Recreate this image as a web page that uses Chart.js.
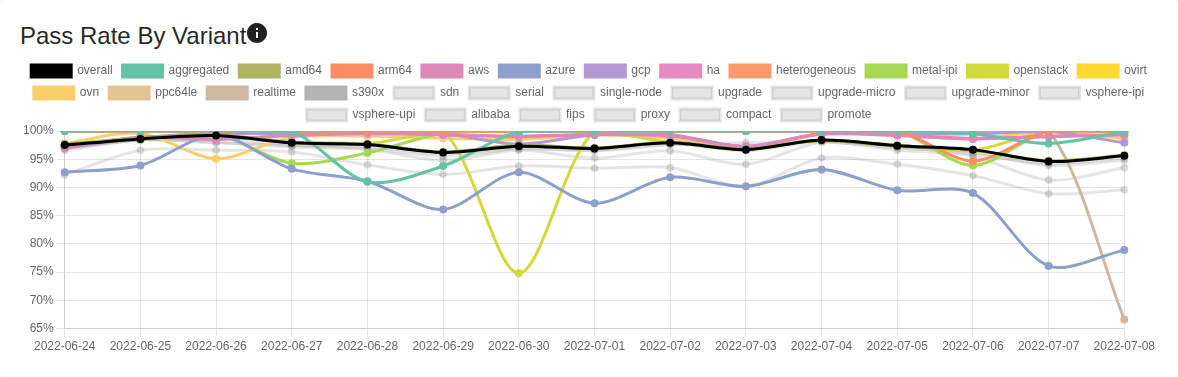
<!DOCTYPE html>
<html>
<head>
<meta charset="utf-8">
<script src="https://cdn.jsdelivr.net/npm/chart.js@4"></script>
<style>
    html, body { margin: 0; padding: 0; background: #f5f5f5; overflow: hidden; }
    .card {
        position: relative;
        box-sizing: border-box;
        width: 1178px;
        height: 377px;
        background: #fff;
        border-radius: 4px;
        font-family: "Liberation Sans", Arial, sans-serif;
    }
    h5 {
        position: absolute;
        left: 20px;
        top: 20px;
        margin: 0;
        font-size: 24px;
        font-weight: 400;
        line-height: 32px;
        color: rgba(0,0,0,.87);
    }
    h5 svg { position: absolute; left: 225px; top: 1px; }
    .chart-wrap { position: absolute; left: 20px; top: 55px; width: 1138px; height: 302px; }
</style>
</head>
<body>
<div class="card">
    <h5>Pass Rate By Variant<svg width="24" height="24" viewBox="0 0 24 24"><path fill="rgba(0,0,0,.87)" d="M12 2C6.48 2 2 6.48 2 12s4.48 10 10 10 10-4.48 10-10S17.52 2 12 2zm1 15h-2v-6h2v6zm0-8h-2V7h2v2z"/></svg></h5>
    <div class="chart-wrap"><canvas id="grafico"></canvas></div>
</div>
<script>
const labels = ['2022-06-24','2022-06-25','2022-06-26','2022-06-27','2022-06-28','2022-06-29','2022-06-30','2022-07-01','2022-07-02','2022-07-03','2022-07-04','2022-07-05','2022-07-06','2022-07-07','2022-07-08'];

const overall       = [97.5, 98.6, 99.2, 97.9, 97.6, 96.2, 97.3, 96.9, 97.9, 96.7, 98.4, 97.4, 96.7, 94.6, 95.6];
const aggregated    = [100, 100, 100, 99.9, 91.0, 93.8, 99.9, 100, 100, 100, 100, 100, 99.5, 97.8, 99.9];
const amd64         = [97.7, 98.7, 99.3, 98.0, 97.7, 96.3, 97.5, 97.0, 98.0, 96.9, 98.3, 97.3, 96.6, 94.7, 95.7];
const arm64         = [100, 100, 100, 100, 100, 100, 100, 100, 100, 100, 100, 100, 94.7, 100, 100];
const aws           = [97.0, 98.9, 98.6, 99.2, 99.6, 99.4, 99.0, 99.4, 99.2, 97.2, 99.5, 99.3, 98.7, 99.0, 99.3];
const azure         = [92.7, 93.9, 99.3, 93.3, 91.1, 86.1, 92.7, 87.2, 91.8, 90.2, 93.2, 89.5, 89.0, 76.1, 78.9];
const gcp           = [97.0, 98.8, 99.5, 99.5, 99.5, 99.5, 97.7, 99.3, 99.4, 97.2, 99.5, 99.5, 99.5, 99.9, 97.9];
const ha            = [97.2, 98.9, 98.5, 99.2, 99.6, 99.3, 99.1, 99.4, 99.1, 97.3, 99.5, 99.2, 98.6, 99.1, 99.4];
const heterogeneous = [100, 100, 100, 100, 100, 100, 100, 100, 100, 100, 100, 100, 100, 100, 100];
const metalIpi      = [97.5, 98.5, 99.4, 94.3, 96.1, 99.6, 100, 100, 100, 100, 100, 100, 93.9, 100, 100];
const openstack     = [97.6, 98.7, 99.3, 98.0, 97.7, 100, 74.8, 100, 98.0, 97.0, 98.3, 97.5, 96.6, 100, 100];
const ovirt         = [100, 100, 100, 100, 100, 100, 100, 100, 100, 100, 100, 100, 100, 100, 100];
const ovn           = [97.8, 99.6, 95.1, 98.9, 99.1, 98.7, 98.5, 99.3, 98.7, 97.0, 99.4, 99.2, 98.6, 99.9, 98.6];
const ppc64le       = [100, 100, 100, 100, 100, 100, 100, 100, 100, 100, 100, 100, 100, 100, 100];
const realtime      = [100, 100, 100, 100, 100, 100, 100, 100, 100, 100, 100, 100, 100, 100, 66.6];
const s390x         = [100, 100, 100, 100, 100, 100, 100, 100, 100, 100, 100, 100, 100, 100, 100];
const sdn           = [96.6, 98.4, 97.9, 97.2, 96.7, 94.8, 96.6, 95.2, 96.5, 94.1, 98.0, 96.6, 95.5, 91.3, 93.5];
const serial        = [92.2, 96.6, 96.6, 96.3, 94.0, 92.3, 93.8, 93.4, 93.5, 90.2, 95.2, 94.1, 92.1, 88.9, 89.6];
const singleNode    = [96.8, 98.5, 98.0, 97.4, 96.9, 95.5, 96.8, 96.5, 97.5, 97.9, 98.1, 97.0, 96.2, 93.9, 94.8];
const upgrade       = [97.1, 98.3, 98.6, 97.6, 97.2, 96.0, 97.0, 96.6, 97.7, 96.5, 98.2, 97.2, 95.9, 94.2, 95.2];
const upgradeMicro  = [100, 100, 100, 100, 100, 100, 100, 100, 100, 100, 100, 100, 100, 100, 100];
const upgradeMinor  = [100, 100, 100, 100, 100, 100, 100, 100, 100, 100, 100, 100, 100, 100, 100];
const vsphereIpi    = [100, 100, 100, 100, 100, 100, 100, 100, 100, 100, 100, 100, 100, 100, 100];
const vsphereUpi    = [100, 100, 100, 100, 100, 100, 100, 100, 100, 100, 100, 100, 100, 100, 100];
const alibaba       = [100, 100, 100, 100, 100, 100, 100, 100, 100, 100, 100, 100, 100, 100, 100];
const fips          = [100, 100, 100, 100, 100, 100, 100, 100, 100, 100, 100, 100, 100, 100, 100];
const proxy         = [100, 100, 100, 100, 100, 100, 100, 100, 100, 100, 100, 100, 100, 100, 100];
const compact       = [100, 100, 100, 100, 100, 100, 100, 100, 100, 100, 100, 100, 100, 100, 100];
const promote       = [100, 100, 100, 100, 100, 100, 100, 100, 100, 100, 100, 100, 100, 100, 100];

const GRAY = 'rgba(127,127,127,0.2)';

function serie(label, data, color) {
    return {
        label,
        data,
        borderColor: color,
        backgroundColor: color,
        borderWidth: 3,
        pointRadius: 3,
        pointBorderWidth: 2,
        tension: 0.3
    };
}

const datasets = [
    serie('overall', overall, '#000000'),
    serie('aggregated', aggregated, 'rgba(102,194,165,1)'),
    serie('amd64', amd64, 'rgba(174,180,95,1)'),
    serie('arm64', arm64, 'rgba(252,141,98,1)'),
    serie('aws', aws, 'rgba(222,135,185,1)'),
    serie('azure', azure, 'rgba(141,160,203,1)'),
    serie('gcp', gcp, 'rgba(180,152,212,1)'),
    serie('ha', ha, 'rgba(231,138,195,1)'),
    serie('heterogeneous', heterogeneous, 'rgba(252,155,105,1)'),
    serie('metal-ipi', metalIpi, 'rgba(166,216,84,1)'),
    serie('openstack', openstack, 'rgba(209,217,60,1)'),
    serie('ovirt', ovirt, 'rgba(255,217,47,1)'),
    serie('ovn', ovn, 'rgba(250,207,105,1)'),
    serie('ppc64le', ppc64le, 'rgba(229,196,148,1)'),
    serie('realtime', realtime, 'rgba(205,185,160,1)'),
    serie('s390x', s390x, 'rgba(179,179,179,1)'),
    serie('sdn', sdn, GRAY),
    serie('serial', serial, GRAY),
    serie('single-node', singleNode, GRAY),
    serie('upgrade', upgrade, GRAY),
    serie('upgrade-micro', upgradeMicro, GRAY),
    serie('upgrade-minor', upgradeMinor, GRAY),
    serie('vsphere-ipi', vsphereIpi, GRAY),
    serie('vsphere-upi', vsphereUpi, GRAY),
    serie('alibaba', alibaba, GRAY),
    serie('fips', fips, GRAY),
    serie('proxy', proxy, GRAY),
    serie('compact', compact, GRAY),
    serie('promote', promote, GRAY)
];

Chart.defaults.font.family = '"Liberation Sans", Arial, sans-serif';
Chart.defaults.font.size = 12;
Chart.defaults.color = '#666';
Chart.defaults.animation = false;

new Chart(document.getElementById('grafico').getContext('2d'), {
    type: 'line',
    data: { labels, datasets },
    options: {
        responsive: true,
        maintainAspectRatio: false,
        scales: {
            x: { ticks: { maxRotation: 0, autoSkip: false } },
            y: { min: 65, max: 100, ticks: { stepSize: 5, callback: v => v + '%' } }
        },
        plugins: { legend: { position: 'top' } }
    }
});
</script>
</body>
</html>
